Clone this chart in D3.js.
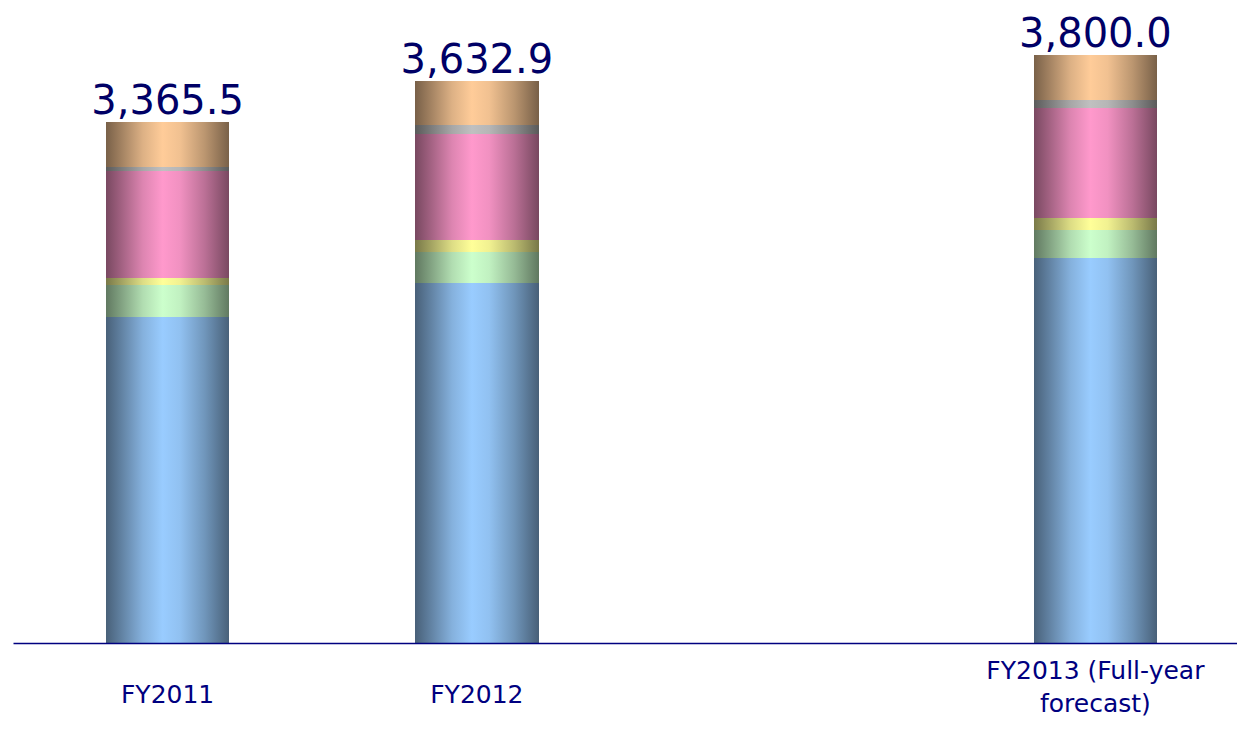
<!DOCTYPE html>
<meta charset="utf-8">
<style>
body { margin: 0; background: #fff; }
.total { font-family: "DejaVu Sans", sans-serif; font-size: 40px; fill: #000066; }
.axis text { font-family: "DejaVu Sans", sans-serif; font-size: 25px; fill: #000080; }
.axis .domain { stroke: #000080; stroke-width: 1.5px; }
.bars rect { shape-rendering: crispEdges; }
</style>
<svg width="1237" height="729"></svg>
<script src="https://d3js.org/d3.v7.min.js"></script>
<script>

// categories (the third slot of the axis is left empty in the original)
var categories = ["FY2011", "FY2012", "FY2013 (Full-year forecast)"];
var tickLines = [["FY2011"], ["FY2012"], ["FY2013 (Full-year", "forecast)"]];

// stacked segments, bottom to top
var seriesNames = ["s1", "s2", "s3", "s4", "s5", "s6"];
var s1 = [2107.0, 2330.0, 2489.0];
var s2 = [207.0, 200.0, 181.0];
var s3 = [45.0, 78.0, 78.0];
var s4 = [692.0, 685.0, 711.0];
var s5 = [24.0, 52.0, 52.0];
var s6 = [290.5, 287.9, 289.0];
var totals = [3365.5, 3632.9, 3800.0];

var colors = ["#99ccff", "#ccffcc", "#ffff99", "#ff99cc", "#c0c0c0", "#ffcc99"];

var svg = d3.select("svg"),
    width = +svg.attr("width"),
    height = +svg.attr("height");

var slots = [categories[0], categories[1], "blank", categories[2]];

var x = d3.scaleBand()
    .domain(slots)
    .range([13, 1250])
    .paddingInner(0.6)
    .paddingOuter(0.3);

var y = d3.scaleLinear()
    .domain([0, 4156])
    .range([643, 0]);

var rows = categories.map(function(c, i) {
  return { cat: c, s1: s1[i], s2: s2[i], s3: s3[i], s4: s4[i], s5: s5[i], s6: s6[i] };
});

var stack = d3.stack().keys(seriesNames)(rows);

// horizontal shading, dark at the edges and light in the middle
var defs = svg.append("defs");
colors.forEach(function(c, i) {
  var base = d3.rgb(c);
  var dark = d3.rgb(base.r * 0.47, base.g * 0.47, base.b * 0.47);
  var mix = d3.interpolateRgb(dark, c);
  var g = defs.append("linearGradient")
      .attr("id", "grad" + i)
      .attr("x1", "0%").attr("x2", "100%")
      .attr("y1", "0%").attr("y2", "0%");
  [[0, 0], [0.12, 0.3], [0.3, 0.75], [0.46, 1], [0.6, 0.9], [0.8, 0.5], [1, 0]].forEach(function(s) {
    g.append("stop").attr("offset", s[0] * 100 + "%").attr("stop-color", mix(s[1]));
  });
});

svg.append("g")
    .attr("class", "bars")
  .selectAll("g")
  .data(stack)
  .enter().append("g")
    .attr("fill", function(d, i) { return "url(#grad" + i + ")"; })
  .selectAll("rect")
  .data(function(d) { return d; })
  .enter().append("rect")
    .attr("x", function(d) { return x(d.data.cat); })
    .attr("width", x.bandwidth())
    .attr("y", function(d) { return y(d[1]); })
    .attr("height", function(d) { return y(d[0]) - y(d[1]); });

svg.append("g")
  .selectAll("text")
  .data(totals)
  .enter().append("text")
    .attr("class", "total")
    .attr("text-anchor", "middle")
    .attr("x", function(d, i) { return x(categories[i]) + x.bandwidth() / 2; })
    .attr("y", function(d) { return y(d) - 8; })
    .text(d3.format(",.1f"));

var axis = svg.append("g")
    .attr("class", "axis")
    .attr("transform", "translate(0," + y(0) + ")")
    .call(d3.axisBottom(x).tickSize(0).tickValues(categories).tickFormat(""));

axis.selectAll(".tick text").each(function(d) {
  var lines = tickLines[categories.indexOf(d)];
  var t = d3.select(this).attr("y", 0).attr("dy", null);
  t.selectAll("tspan")
    .data(lines)
    .enter().append("tspan")
      .attr("x", 0)
      .attr("y", function(l, k) { return lines.length > 1 ? 36 + k * 33 : 60; })
      .text(function(l) { return l; });
});

</script>
